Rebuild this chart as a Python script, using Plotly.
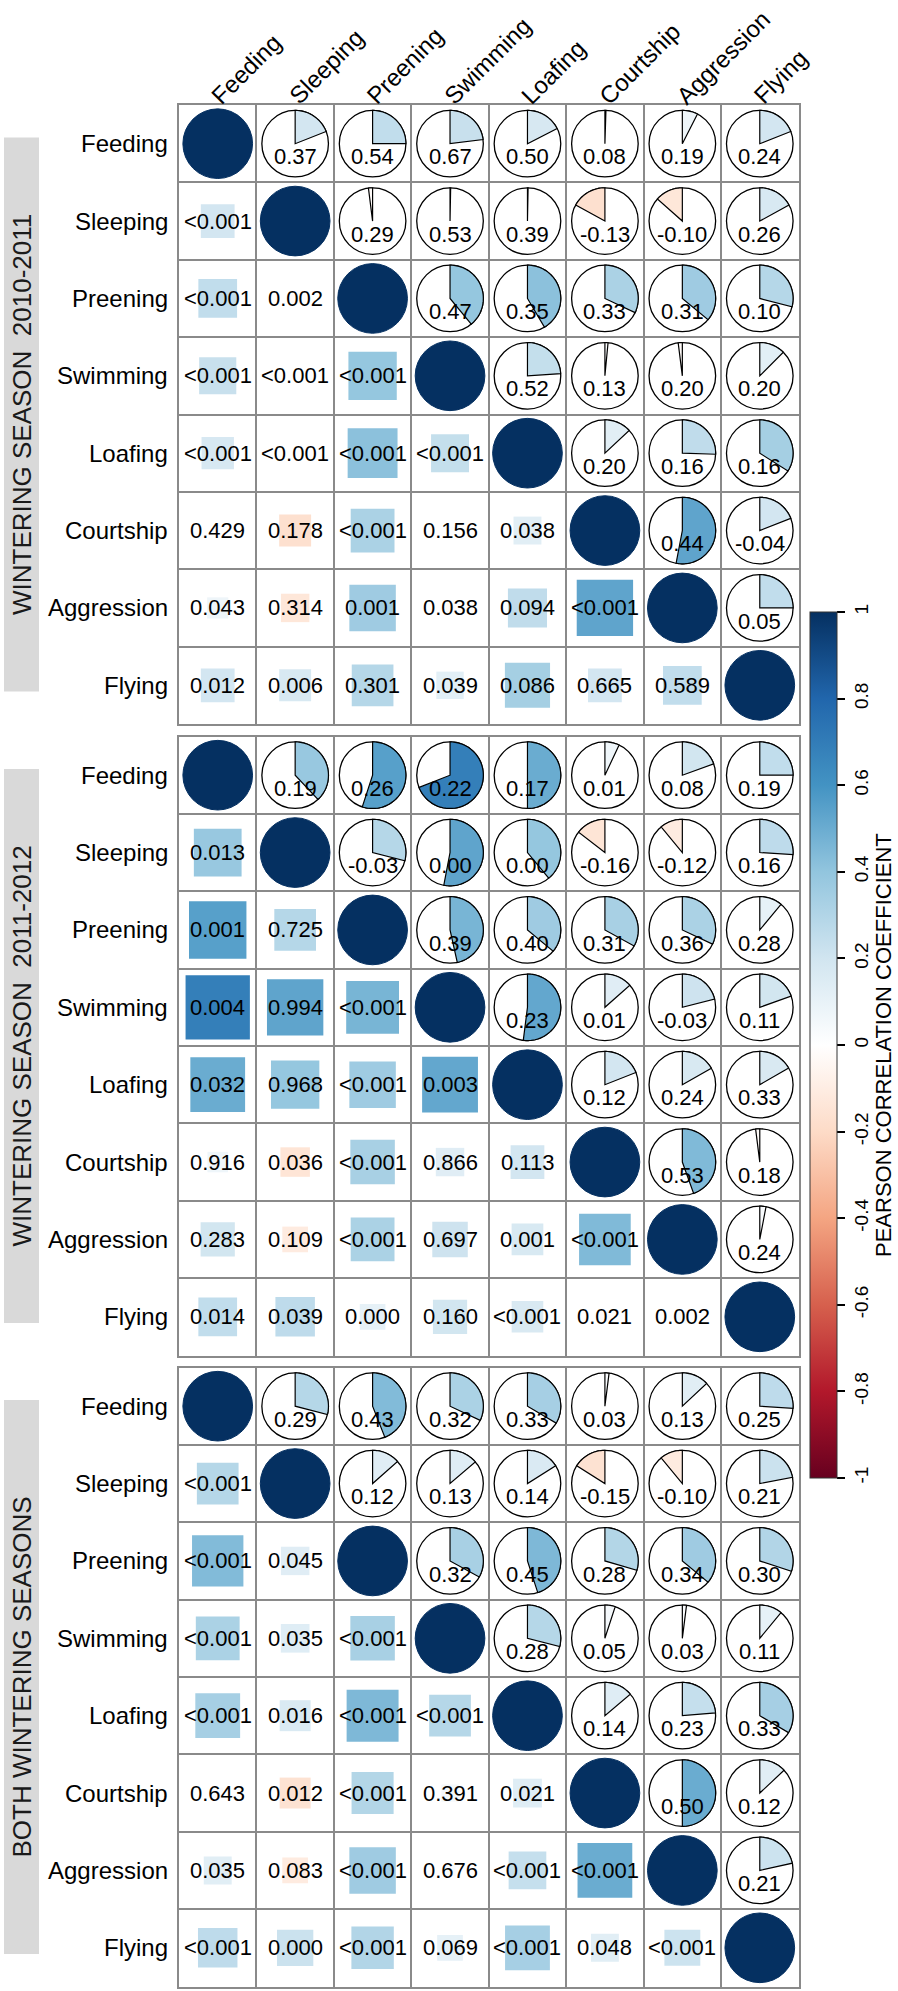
import math
import plotly.graph_objects as go

# ---------------- data ----------------
behaviours = ["Feeding", "Sleeping", "Preening", "Swimming",
              "Loafing", "Courtship", "Aggression", "Flying"]
panel_titles = ["WINTERING SEASON  2010-2011",
                "WINTERING SEASON  2011-2012",
                "BOTH WINTERING SEASONS"]

# correlation coefficient (upper triangle, row-wise, i<j) -> pie wedge / square size & colour
r_2010 = [0.19, 0.25, 0.23, 0.175, 0.005, 0.075, 0.19,
          -0.02, 0.003, 0.003, -0.17, -0.135, 0.17,
          0.39, 0.415, 0.32, 0.36, 0.29,
          0.24, 0.015, -0.02, 0.125,
          0.13, 0.255, 0.34,
          0.53, 0.19,
          0.25]
r_2011 = [0.38, 0.55, 0.69, 0.50, 0.07, 0.195, 0.25,
          0.29, 0.53, 0.39, -0.145, -0.11, 0.26,
          0.465, 0.36, 0.33, 0.32, 0.11,
          0.52, 0.135, 0.21, 0.195,
          0.19, 0.168, 0.167,
          0.445, -0.02,
          0.03]
r_both = [0.29, 0.44, 0.32, 0.335, 0.02, 0.13, 0.26,
          0.135, 0.137, 0.16, -0.16, -0.11, 0.22,
          0.33, 0.45, 0.295, 0.36, 0.30,
          0.29, 0.05, 0.02, 0.11,
          0.138, 0.237, 0.335,
          0.50, 0.13,
          0.215]

# numbers printed in the upper triangle (row-wise, i<j)
lab_2010 = ["0.37", "0.54", "0.67", "0.50", "0.08", "0.19", "0.24",
            "0.29", "0.53", "0.39", "-0.13", "-0.10", "0.26",
            "0.47", "0.35", "0.33", "0.31", "0.10",
            "0.52", "0.13", "0.20", "0.20",
            "0.20", "0.16", "0.16",
            "0.44", "-0.04",
            "0.05"]
lab_2011 = ["0.19", "0.26", "0.22", "0.17", "0.01", "0.08", "0.19",
            "-0.03", "0.00", "0.00", "-0.16", "-0.12", "0.16",
            "0.39", "0.40", "0.31", "0.36", "0.28",
            "0.23", "0.01", "-0.03", "0.11",
            "0.12", "0.24", "0.33",
            "0.53", "0.18",
            "0.24"]
lab_both = ["0.29", "0.43", "0.32", "0.33", "0.03", "0.13", "0.25",
            "0.12", "0.13", "0.14", "-0.15", "-0.10", "0.21",
            "0.32", "0.45", "0.28", "0.34", "0.30",
            "0.28", "0.05", "0.03", "0.11",
            "0.14", "0.23", "0.33",
            "0.50", "0.12",
            "0.21"]

# p-values printed in the lower triangle (row-wise, i>j)
p_2010 = ["<0.001",
          "<0.001", "0.002",
          "<0.001", "<0.001", "<0.001",
          "<0.001", "<0.001", "<0.001", "<0.001",
          "0.429", "0.178", "<0.001", "0.156", "0.038",
          "0.043", "0.314", "0.001", "0.038", "0.094", "<0.001",
          "0.012", "0.006", "0.301", "0.039", "0.086", "0.665", "0.589"]
p_2011 = ["0.013",
          "0.001", "0.725",
          "0.004", "0.994", "<0.001",
          "0.032", "0.968", "<0.001", "0.003",
          "0.916", "0.036", "<0.001", "0.866", "0.113",
          "0.283", "0.109", "<0.001", "0.697", "0.001", "<0.001",
          "0.014", "0.039", "0.000", "0.160", "<0.001", "0.021", "0.002"]
p_both = ["<0.001",
          "<0.001", "0.045",
          "<0.001", "0.035", "<0.001",
          "<0.001", "0.016", "<0.001", "<0.001",
          "0.643", "0.012", "<0.001", "0.391", "0.021",
          "0.035", "0.083", "<0.001", "0.676", "<0.001", "<0.001",
          "<0.001", "0.000", "<0.001", "0.069", "<0.001", "0.048", "<0.001"]

panels = [(r_2010, lab_2010, p_2010), (r_2011, lab_2011, p_2011), (r_both, lab_both, p_both)]

cbar_vals = [1, 0.8, 0.6, 0.4, 0.2, 0, -0.2, -0.4, -0.6, -0.8, -1]
cbar_text = ["1", "0.8", "0.6", "0.4", "0.2", "0", "-0.2", "-0.4", "-0.6", "-0.8", "-1"]
cbar_title = "PEARSON CORRELATION COEFFICIENT"

# ---------------- style ----------------
W, H = 898, 1991
FONT = "Arial, Liberation Sans, sans-serif"
rdbu = ["#67001F", "#B2182B", "#D6604D", "#F4A582", "#FDDBC7", "#FFFFFF",
        "#D1E5F0", "#92C5DE", "#4393C3", "#2166AC", "#053061"]
colorscale = [[k / 10, c] for k, c in enumerate(rdbu)]


def hex2rgb(h):
    h = h.lstrip("#")
    return tuple(int(h[i:i + 2], 16) for i in (0, 2, 4))


def corr_color(v):
    t = (max(-1, min(1, v)) + 1) / 2 * 10
    k = min(int(t), 9)
    f = t - k
    a, b = hex2rgb(rdbu[k]), hex2rgb(rdbu[k + 1])
    c = [round(a[m] + (b[m] - a[m]) * f) for m in range(3)]
    return "rgb(%d,%d,%d)" % tuple(c)


grid_left, grid_right = 179, 798.5
panel_tops = [105, 736.5, 1367.5]
panel_h = 619
GRID = "#8a8a8a"
cb_top, cb_bot = 612, 1478

fig = go.Figure()
shapes = []
annotations = []
n = len(behaviours)

for k, (rv, lab, pv) in enumerate(panels):
    sfx = "" if k == 0 else str(k + 1)
    xr, yr = "x" + sfx, "y" + sfx
    top = panel_tops[k]
    fig.update_layout(**{
        "xaxis" + sfx: dict(domain=[grid_left / W, grid_right / W], range=[0.5, n + 0.5],
                            tickvals=[i + 0.5 for i in range(1, n)], showticklabels=False,
                            ticks="", showgrid=True, gridcolor=GRID, gridwidth=1.5,
                            zeroline=False, showline=True, mirror=True, linecolor=GRID,
                            linewidth=2, anchor=yr, fixedrange=True),
        "yaxis" + sfx: dict(domain=[1 - (top + panel_h) / H, 1 - top / H], range=[n + 0.5, 0.5],
                            tickvals=[i + 0.5 for i in range(1, n)], showticklabels=False,
                            ticks="", showgrid=True, gridcolor=GRID, gridwidth=1.5,
                            zeroline=False, showline=True, mirror=True, linecolor=GRID,
                            linewidth=2, anchor=xr, fixedrange=True),
    })
    R = [[None] * n for _ in range(n)]
    L = [[None] * n for _ in range(n)]
    idx = 0
    for i in range(n):
        for j in range(i + 1, n):
            R[i][j] = rv[idx]
            R[j][i] = rv[idx]
            L[i][j] = lab[idx]
            idx += 1
    idx = 0
    for i in range(1, n):
        for j in range(i):
            L[i][j] = pv[idx]
            idx += 1

    for i in range(n):
        for j in range(n):
            cx, cy = j + 1, i + 1
            if i == j:
                rad = 0.45
                shapes.append(dict(type="circle", xref=xr, yref=yr,
                                   x0=cx - rad, x1=cx + rad, y0=cy - rad, y1=cy + rad,
                                   fillcolor="#053061", line=dict(color="#053061", width=1)))
            elif j > i:
                rad = 0.43
                v = R[i][j]
                shapes.append(dict(type="circle", xref=xr, yref=yr,
                                   x0=cx - rad, x1=cx + rad, y0=cy - rad, y1=cy + rad,
                                   fillcolor="white", line=dict(color="black", width=1.3)))
                theta = 2 * math.pi * v
                m = max(2, int(abs(v) * 160))
                pts = ["M%.4f,%.4f" % (cx, cy)]
                for s in range(m + 1):
                    t = theta * s / m
                    pts.append("L%.4f,%.4f" % (cx + rad * math.sin(t), cy - rad * math.cos(t)))
                pts.append("Z")
                shapes.append(dict(type="path", xref=xr, yref=yr, path=" ".join(pts),
                                   fillcolor=corr_color(v), line=dict(color="black", width=1.2)))
                annotations.append(dict(xref=xr, yref=yr, x=cx, y=cy + 0.17, text=L[i][j],
                                        showarrow=False, font=dict(family=FONT, size=22, color="black"),
                                        xanchor="center", yanchor="middle"))
            else:
                v = R[i][j]
                side = math.sqrt(abs(v))
                shapes.append(dict(type="rect", xref=xr, yref=yr,
                                   x0=cx - side / 2, x1=cx + side / 2,
                                   y0=cy - side / 2, y1=cy + side / 2,
                                   fillcolor=corr_color(v), line=dict(width=0)))
                annotations.append(dict(xref=xr, yref=yr, x=cx, y=cy, text=L[i][j],
                                        showarrow=False, font=dict(family=FONT, size=22, color="black"),
                                        xanchor="center", yanchor="middle"))
        annotations.append(dict(xref="paper", yref=yr, x=170 / W, y=i + 1, text=behaviours[i],
                                showarrow=False, xanchor="right", yanchor="middle",
                                font=dict(family=FONT, size=24, color="black")))
    centre = top + panel_h / 2
    shapes.append(dict(type="rect", xref="paper", yref="paper", x0=4 / W, x1=39 / W,
                       y0=1 - (centre + 277) / H, y1=1 - (centre - 277) / H,
                       fillcolor="#d9d9d9", line=dict(width=0), layer="below"))
    annotations.append(dict(xref="paper", yref="paper", x=21.5 / W, y=1 - centre / H,
                            text=panel_titles[k], textangle=-90, showarrow=False,
                            xanchor="center", yanchor="middle",
                            font=dict(family=FONT, size=26, color="#1a1a1a")))

# column labels
for j, name in enumerate(behaviours):
    annotations.append(dict(xref="x", yref="paper", x=j + 1 - 0.18, y=1 - 112 / H, text=name,
                            textangle=-45, showarrow=False, xanchor="left", yanchor="bottom",
                            font=dict(family=FONT, size=24, color="black")))

# colour-bar title
annotations.append(dict(xref="paper", yref="paper", x=883 / W, y=1 - (cb_top + cb_bot) / 2 / H,
                        text=cbar_title, textangle=-90, showarrow=False,
                        xanchor="center", yanchor="middle",
                        font=dict(family=FONT, size=22, color="black")))

fig.add_trace(go.Scatter(
    x=[1], y=[1], xaxis="x", yaxis="y", mode="markers", hoverinfo="skip", showlegend=False,
    marker=dict(size=1, opacity=0, color=[0], cmin=-1, cmax=1, colorscale=colorscale,
                showscale=True,
                colorbar=dict(x=810 / W, xanchor="left", xpad=0, ypad=0,
                              y=1 - cb_top / H, yanchor="top", len=(cb_bot - cb_top) / H,
                              lenmode="fraction",
                              thickness=27, thicknessmode="pixels", outlinewidth=1,
                              outlinecolor="#333333",
                              tickvals=cbar_vals, ticktext=cbar_text, ticks="outside",
                              ticklen=8, tickwidth=1.5, tickcolor="black", tickangle=-90,
                              tickfont=dict(family=FONT, size=19, color="black"))))
)

fig.update_layout(width=W, height=H, margin=dict(l=0, r=0, t=0, b=0),
                  paper_bgcolor="white", plot_bgcolor="white",
                  shapes=shapes, annotations=annotations, showlegend=False)

fig.write_html("out.html", config={"displayModeBar": False},
               post_script="document.body.style.margin='0px';document.body.style.overflow='hidden';")
